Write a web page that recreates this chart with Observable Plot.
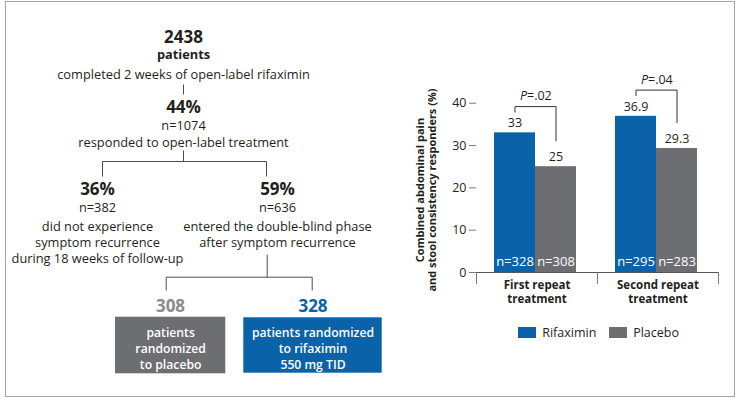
<!DOCTYPE html>
<html><head><meta charset="utf-8">
<script src="https://cdn.jsdelivr.net/npm/d3@7"></script>
<script src="https://cdn.jsdelivr.net/npm/@observablehq/plot@0.6"></script>
<style>
html,body{margin:0;padding:0;background:#fff;}
#root{position:relative;width:749px;height:405px;overflow:hidden;font-family:"Open Sans",sans-serif;color:#231f20;}
#frame{position:absolute;left:4.5px;top:1px;width:730px;height:396px;border:1.5px solid #a5a5a5;box-sizing:border-box;}
#flow{position:absolute;left:0;top:0;}
#bars{position:absolute;left:385px;top:60px;}
#ytitle{position:absolute;left:316px;top:178px;width:220px;height:24px;transform:rotate(-90deg);transform-origin:50% 50%;
  text-align:center;font-weight:700;font-size:11px;line-height:11.5px;white-space:nowrap;}
#legend{position:absolute;left:518px;top:316px;}
</style></head>
<body>
<div id="root">
  <div id="frame"></div>
  <div id="flow"></div>
  <div id="bars"></div>
  <div id="ytitle">Combined abdominal pain<br>and stool consistency responders (%)</div>
  <div id="legend"></div>
</div>
<script>
// ---------- Data ----------
const flowHeadings = ["2438", "44%", "36%", "59%", "308", "328"];
const flowSubs = ["patients", "n=1074", "n=382", "n=636"];
const flowDescs = [
  "completed 2 weeks of open-label rifaximin",
  "responded to open-label treatment",
  "did not experience\nsymptom recurrence\nduring 18 weeks of follow-up",
  "entered the double-blind phase\nafter symptom recurrence"
];
const armBoxTexts = ["patients\nrandomized\nto placebo", "patients randomized\nto rifaximin\n550 mg TID"];

const groups = ["First repeat treatment", "Second repeat treatment"];
const seriesNames = ["Rifaximin", "Placebo"];
const rifaximinPct = [33, 36.9];
const placeboPct = [25, 29.3];
const rifaximinN = [328, 295];
const placeboN = [308, 283];
const pLabels = [".02", ".04"];
const yTicks = [0, 10, 20, 30, 40];

// ---------- Styles / layout ----------
const BLUE = "#0a62a9", GREY = "#6d6e71", INK = "#231f20";
const FONT = '"Open Sans", sans-serif';
const flowLayout = {
  cx: [183, 183, 97, 277, 170, 312.5],
  headY: [37, 107, 189.5, 189.5, 306, 306],
  subY: [54, 125, 207.5, 207.5],
  subBold: [true, false, false, false],
  descY: [72, 140, 223.5, 223.5],
  headFill: [INK, INK, INK, INK, "#8a8b8d", BLUE],
  boxes: [{x1: 115, x2: 225.3, y1: 316.7, y2: 373.3, fill: GREY}, {x1: 243.3, x2: 381.7, y1: 317.3, y2: 372.7, fill: BLUE}],
  boxTextY: 330,
  links: [
    [183, 84, 183, 94],
    [183, 150, 183, 161], [102, 161, 266, 161], [102, 161, 102, 176], [266, 161, 266, 176],
    [266.7, 254, 266.7, 276.7], [165.7, 276.7, 311.7, 276.7], [165.7, 276.7, 165.7, 290], [311.7, 276.7, 311.7, 290]
  ]
};
const FS = 12.8, LH = 1.27;
const topOf = (center, fs = FS) => center - 0.39 * fs;

const heads = flowHeadings.map((t, i) => ({t, x: flowLayout.cx[i], y: flowLayout.headY[i], fill: flowLayout.headFill[i]}));
const subs = flowSubs.map((t, i) => ({t, x: flowLayout.cx[i], y: flowLayout.subY[i], bold: flowLayout.subBold[i]}));
const descs = flowDescs.map((t, i) => ({t, x: flowLayout.cx[i], y: topOf(flowLayout.descY[i])}));
const boxes = armBoxTexts.map((t, i) => ({t, ...flowLayout.boxes[i], cx: (flowLayout.boxes[i].x1 + flowLayout.boxes[i].x2) / 2}));
const links = flowLayout.links.map(([x1, y1, x2, y2]) => ({x1, y1, x2, y2}));

const flow = Plot.plot({
  width: 390, height: 405, margin: 0,
  style: {fontFamily: FONT, fontSize: FS + "px", color: INK, background: "transparent", overflow: "visible"},
  x: {domain: [0, 390], range: [0, 390], axis: null},
  y: {domain: [0, 405], range: [0, 405], axis: null},
  marks: [
    Plot.link(links, {x1: "x1", y1: "y1", x2: "x2", y2: "y2", stroke: "#4d4d4f", strokeWidth: 1}),
    Plot.rect(boxes, {x1: "x1", x2: "x2", y1: "y1", y2: "y2", fill: d => d.fill}),
    Plot.text(boxes, {x: "cx", y: topOf(flowLayout.boxTextY, 12.2), text: "t", lineAnchor: "top", lineHeight: 1.3, fill: "white", fontWeight: 600, fontSize: 12.2}),
    Plot.text(heads, {x: "x", y: "y", text: "t", fill: d => d.fill, fontWeight: "bold", fontSize: 17}),
    Plot.text(subs.filter(d => d.bold), {x: "x", y: "y", text: "t", fontWeight: "bold", fill: INK}),
    Plot.text(subs.filter(d => !d.bold), {x: "x", y: "y", text: "t", fill: INK}),
    Plot.text(descs, {x: "x", y: "y", text: "t", lineAnchor: "top", lineHeight: LH, fill: INK})
  ]
});
document.getElementById("flow").append(flow);

// ---------- Bar chart ----------
const bars = groups.flatMap((g, i) => [
  {group: g, series: seriesNames[0], value: rifaximinPct[i], n: rifaximinN[i]},
  {group: g, series: seriesNames[1], value: placeboPct[i], n: placeboN[i]}
]);
const brackets = groups.flatMap((g, i) => {
  const top = Math.max(rifaximinPct[i], placeboPct[i]) + 6.2;
  return [
    {group: g, series: seriesNames[0], y: rifaximinPct[i] + 4.9},
    {group: g, series: seriesNames[0], y: top},
    {group: g, series: seriesNames[1], y: top},
    {group: g, series: seriesNames[1], y: placeboPct[i] + 6.1}
  ];
});
const pData = groups.map((g, i) => ({group: g, y: Math.max(rifaximinPct[i], placeboPct[i]) + 8.6, p: pLabels[i]}));

const chart = Plot.plot({
  width: 350, height: 250,
  marginLeft: 90, marginRight: 17, marginTop: 42.7, marginBottom: 38,
  style: {fontFamily: FONT, fontSize: "12.5px", color: INK, background: "transparent", overflow: "visible"},
  fx: {domain: groups, padding: 0, label: null, axis: null},
  x: {domain: seriesNames, paddingInner: 0, paddingOuter: 0.45, align: 0.46, axis: null},
  y: {domain: [0, 40], axis: null},
  color: {domain: seriesNames, range: [BLUE, GREY]},
  marks: [
    Plot.barY(bars, {fx: "group", x: "series", y: "value", fill: "series"}),
    Plot.axisY({ticks: yTicks, tickSize: 7, tickPadding: 3, line: true, label: null, stroke: "#7a7a7a", fill: INK, fontSize: 12.5}),
    Plot.axisFx({anchor: "bottom", tickSize: 0, tickPadding: 6.5, label: null, fontWeight: "bold", fontSize: 11.5, lineHeight: 1.2, fill: INK,
      tickFormat: d => d.replace(" treatment", "\ntreatment")}),
    Plot.ruleY([0], {stroke: "#555"}),
    Plot.frame({anchor: "left", insetTop: 169.3, insetBottom: -11, stroke: "#7a7a7a"}),
    Plot.frame({anchor: "right", insetTop: 169.3, insetBottom: -11, stroke: "#7a7a7a"}),
    Plot.text(bars, {fx: "group", x: "series", y: "value", text: d => String(d.value), dy: -9.5, fill: INK}),
    Plot.text(bars, {fx: "group", x: "series", y: 0, text: d => `n=${d.n}`, dy: -10.3, fill: "white", fontSize: 13}),
    Plot.line(brackets, {fx: "group", x: "series", y: "y", z: "group", stroke: "#333", strokeWidth: 1}),
    Plot.text(pData, {fx: "group", y: "y", text: () => "P", fontStyle: "italic", textAnchor: "end", dx: -10, fill: INK}),
    Plot.text(pData, {fx: "group", y: "y", text: d => "=" + d.p, textAnchor: "start", dx: -10, fill: INK})
  ]
});
document.getElementById("bars").append(chart);

const legend = Plot.legend({
  color: {domain: seriesNames, range: [BLUE, GREY]},
  legend: "swatches", swatchWidth: 18, swatchHeight: 11,
  style: {fontFamily: FONT, fontSize: "12.5px", color: INK}
});
document.getElementById("legend").append(legend);
</script>
</body></html>
